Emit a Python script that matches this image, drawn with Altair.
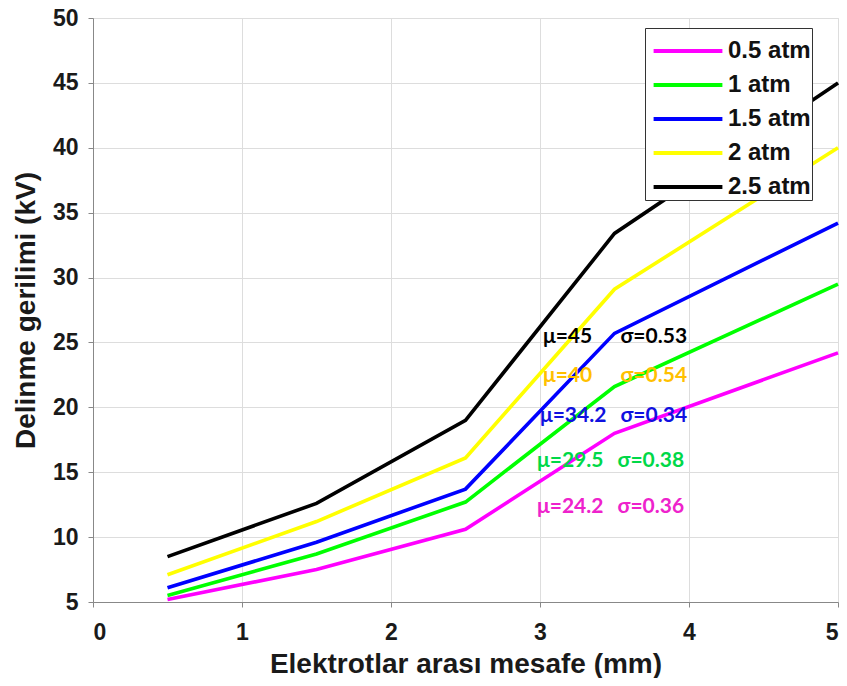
import altair as alt
import pandas as pd

x_mm = [0.5, 1.5, 2.5, 3.5, 5.0]
series_names = ["0.5 atm", "1 atm", "1.5 atm", "2 atm", "2.5 atm"]
v_05 = [5.2, 7.5, 10.6, 18.0, 24.2]
v_1 = [5.5, 8.7, 12.7, 21.6, 29.5]
v_15 = [6.1, 9.6, 13.7, 25.7, 34.2]
v_2 = [7.1, 11.2, 16.1, 29.1, 40.0]
v_25 = [8.5, 12.6, 19.0, 33.4, 45.0]
line_colors = ["#FF00FF", "#00FF00", "#0000FF", "#FFFF00", "#000000"]

mu_text = ["μ=45", "μ=40", "μ=34.2", "μ=29.5", "μ=24.2"]
sigma_text = ["σ=0.53", "σ=0.54", "σ=0.34", "σ=0.38", "σ=0.36"]
text_colors = ["#000000", "#FFC000", "#1010E0", "#00D848", "#EE22CC"]
text_y = [25.4, 22.4, 19.3, 15.9, 12.3]
mu_x = [3.02, 3.02, 3.0, 2.98, 2.98]
sigma_x = [3.54, 3.54, 3.54, 3.52, 3.52]

rows = []
for name, vals in zip(series_names, [v_05, v_1, v_15, v_2, v_25]):
    for xv, yv in zip(x_mm, vals):
        rows.append({"x": xv, "y": yv, "series": name})
df = pd.DataFrame(rows)

ann = pd.DataFrame({
    "mu": mu_text, "sigma": sigma_text, "color": text_colors,
    "y": text_y, "mx": mu_x, "sx": sigma_x,
})

FONT = "Liberation Sans"

lines = alt.Chart(df).mark_line(strokeWidth=3.6).encode(
    x=alt.X("x:Q", scale=alt.Scale(domain=[0, 5], nice=False),
            axis=alt.Axis(title="Elektrotlar arası mesafe (mm)", values=[0, 1, 2, 3, 4, 5],
                          format="d", labelFontSize=23, labelFontWeight="bold",
                          titleFontSize=28, titleFontWeight="bold", titlePadding=6,
                          labelPadding=14, labelColor="#1a1a1a", titleColor="#1a1a1a")),
    y=alt.Y("y:Q", scale=alt.Scale(domain=[5, 50], nice=False),
            axis=alt.Axis(title="Delinme gerilimi (kV)", values=list(range(5, 51, 5)),
                          labelFontSize=23, labelFontWeight="bold", titleFontSize=28,
                          titleFontWeight="bold", titlePadding=12, labelPadding=10,
                          labelColor="#1a1a1a", titleColor="#1a1a1a")),
    color=alt.Color("series:N", scale=alt.Scale(domain=series_names, range=line_colors),
                    sort=series_names,
                    legend=alt.Legend(title=None, orient="none", legendX=552, legendY=10,
                                      symbolType="M-1.72,0H1.72", symbolSize=1600,
                                      symbolStrokeWidth=4, symbolOffset=20,
                                      labelFontSize=24, labelFontWeight="bold", labelFont=FONT,
                                      labelColor="#111111", rowPadding=0, labelOffset=18,
                                      labelExpr="datum.label + '\u00a0\u00a0\u00a0\u00a0'",
                                      padding=1, strokeColor="#333333", fillColor="white",
                                      labelLimit=250)),
)

mu_marks = alt.Chart(ann).mark_text(align="left", baseline="middle", fontSize=21,
                                    fontWeight="bold", font="Lato").encode(
    x="mx:Q", y="y:Q", text="mu:N", color=alt.Color("color:N", scale=None))
sigma_marks = alt.Chart(ann).mark_text(align="left", baseline="middle", fontSize=21,
                                       fontWeight="bold", font="Lato").encode(
    x="sx:Q", y="y:Q", text="sigma:N", color=alt.Color("color:N", scale=None))

chart = alt.layer(lines, mu_marks, sigma_marks).properties(
    width=745, height=584,
    autosize=alt.AutoSizeParams(type="none"),
    padding={"left": 85, "top": 10, "right": 1, "bottom": 76},
).configure_axis(
    labelFont=FONT, titleFont=FONT, grid=True, gridColor="#E6E6E6",
    domainColor="#333333", ticks=False, domainWidth=1,
).configure_view(stroke=None).configure(background="white")

chart.save("out.html", embed_options={"renderer": "svg", "actions": False})
